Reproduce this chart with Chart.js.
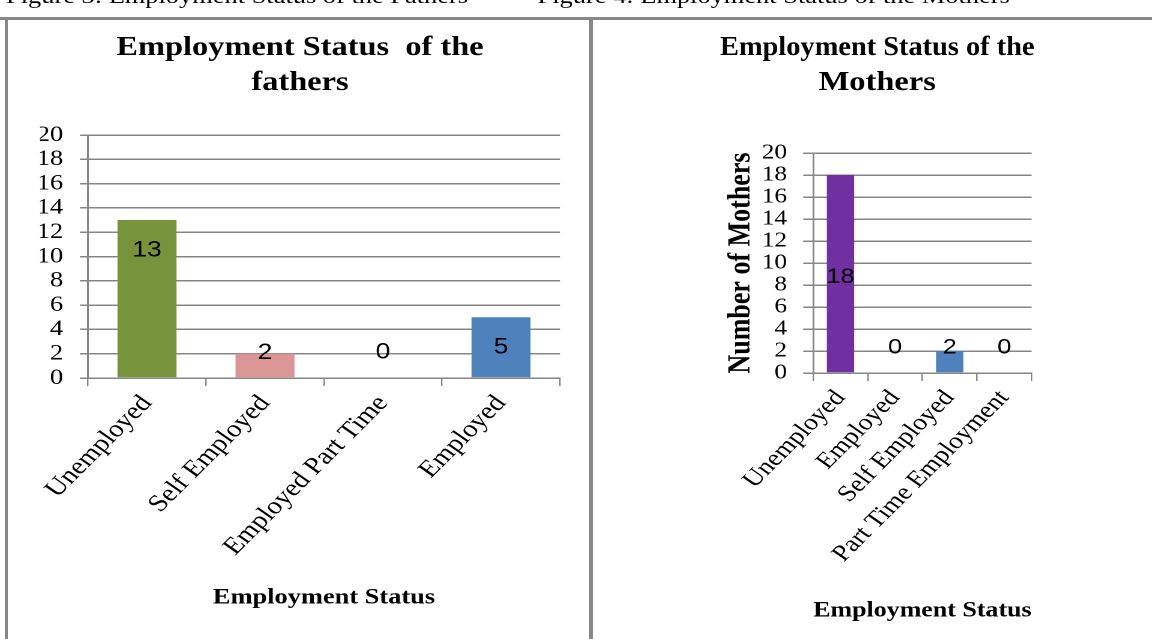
<!DOCTYPE html>
<html>
<head>
<meta charset="utf-8">
<script src="https://cdn.jsdelivr.net/npm/chart.js@4.4.1/dist/chart.umd.min.js"></script>
<style>
  html, body { margin: 0; padding: 0; background: #fff; overflow: hidden; }
  body { width: 1152px; height: 639px; position: relative; }
  /* the source image is a bit wider than it is tall, so the whole figure is stretched a little */
  #stage { position: absolute; left: 0; top: 0; width: 960px; height: 639px; transform: scaleX(1.2); transform-origin: 0 0; }
  .caption { position: absolute; top: -15px; font: 22px "Liberation Serif", serif; line-height: 22px; white-space: nowrap; color: #000; }
  .box { position: absolute; top: 0; height: 639px; }
  .rule { position: absolute; background: #888; }
</style>
</head>
<body>
<div id="stage">
  <div class="caption" style="left:5px">Figure 3: Employment Status of the Fathers</div>
  <div class="caption" style="left:448px">Figure 4: Employment Status of the Mothers</div>
  <div class="box" style="left:10px; width:480px"><canvas id="fathers"></canvas></div>
  <div class="box" style="left:600px; width:261.6px"><canvas id="mothers"></canvas></div>
</div>
<div class="rule" style="left:0; top:17px; width:1152px; height:3px"></div>
<div class="rule" style="left:5px; top:17px; width:3px; height:622px"></div>
<div class="rule" style="left:589px; top:17px; width:4px; height:622px"></div>

<script>
// ==============================
// DATA
// ==============================
const fatherStatus = ['Unemployed', 'Self Employed', 'Employed Part Time', 'Employed'];
const fatherCounts = [13, 2, 0, 5];

const motherStatus = ['Unemployed', 'Employed', 'Self Employed', 'Part Time Employment'];
const motherCounts = [18, 0, 2, 0];

const yMin = 0, yMax = 20, yStep = 2;

// where each value label sits (in axis units), as placed in the original
const fatherLabelAt = [10.5, 2.05, 2.1, 2.5];
const motherLabelAt = [8.7, 2.3, 2.3, 2.3];

const fatherColors = ['#77933C', '#D99694', '#D99694', '#4F81BD'];
const motherColors = ['#7030A0', '#7030A0', '#4F81BD', '#4F81BD'];


// ==============================
// SHARED STYLE
// ==============================
const SERIF = '"Liberation Serif", "Times New Roman", serif';
const GRID = '#868686';

Chart.defaults.font.family = SERIF;
Chart.defaults.color = '#000';

// numbers drawn on / above the bars
const valueLabels = {
  id: 'valueLabels',
  afterDatasetsDraw(chart, args, opts) {
    const ctx = chart.ctx;
    const bars = chart.getDatasetMeta(0).data;
    const values = chart.data.datasets[0].data;
    ctx.save();
    ctx.font = opts.size + 'px "Liberation Sans", Arial, sans-serif';
    ctx.fillStyle = '#000';
    ctx.textAlign = 'center';
    ctx.textBaseline = 'middle';
    bars.forEach((bar, i) => {
      ctx.fillText(String(values[i]), bar.x, chart.scales.y.getPixelForValue(opts.at[i]));
    });
    ctx.restore();
  }
};

function makeChart(id, cfg) {
  return new Chart(document.getElementById(id), {
    type: 'bar',
    data: {
      labels: cfg.labels,
      datasets: [{
        data: cfg.values,
        backgroundColor: cfg.colors,
        borderWidth: 0,
        barPercentage: 0.5,
        categoryPercentage: 1
      }]
    },
    options: {
      responsive: true,
      maintainAspectRatio: false,
      animation: false,
      devicePixelRatio: 2,
      layout: { padding: { left: cfg.padSide, right: cfg.padSide, top: 0, bottom: 0 } },
      plugins: {
        legend: { display: false },
        tooltip: { enabled: false },
        title: {
          display: true,
          text: cfg.title,
          color: '#000',
          font: { family: SERIF, size: 27, weight: 'bold', lineHeight: 1.3 },
          padding: { top: 30.5, bottom: cfg.titleGap }
        },
        valueLabels: { at: cfg.labelAt, size: cfg.labelSize }
      },
      scales: {
        x: {
          grid: { offset: true, drawOnChartArea: false, drawTicks: true, tickLength: 8, color: GRID, lineWidth: 1.2 },
          border: { color: GRID, width: 1.5 },
          ticks: {
            font: { family: SERIF, size: cfg.xFont },
            color: '#000',
            minRotation: 50,
            maxRotation: 50,
            autoSkip: false,
            padding: cfg.xPad
          },
          title: {
            display: true,
            text: 'Employment Status',
            color: '#000',
            font: { family: SERIF, size: 22, weight: 'bold', lineHeight: 1.2 },
            padding: { top: 0, bottom: cfg.xTitleBottom }
          },
          afterFit: s => { s.height = cfg.xHeight; }
        },
        y: {
          min: yMin,
          max: yMax,
          grid: { color: GRID, lineWidth: 1.5, tickLength: cfg.yTickLen },
          border: { color: GRID, width: 1.5 },
          ticks: {
            stepSize: yStep,
            autoSkip: false,
            font: { family: SERIF, size: cfg.yFont },
            color: '#000',
            padding: cfg.yPad
          },
          title: cfg.yTitle
            ? { display: true, text: cfg.yTitle, color: '#000',
                font: { family: SERIF, size: 26, weight: 'bold', lineHeight: 1.2 },
                padding: { top: 2, bottom: 0 } }
            : { display: false },
          afterFit: s => { s.width = cfg.yWidth; }
        }
      }
    },
    plugins: [valueLabels]
  });
}

makeChart('fathers', {
  labels: fatherStatus,
  values: fatherCounts,
  colors: fatherColors,
  labelAt: fatherLabelAt,
  labelSize: 22,
  title: ['Employment Status  of the', 'fathers'],
  titleGap: 34.3,
  padSide: 23.33,
  yWidth: 40,
  yTickLen: 6.7,
  yPad: 14,
  yFont: 22,
  xFont: 24,
  xPad: 4,
  xHeight: 261,
  xTitleBottom: 27.8
});

makeChart('mothers', {
  labels: motherStatus,
  values: motherCounts,
  colors: motherColors,
  labelAt: motherLabelAt,
  labelSize: 21,
  title: ['Employment Status of the', 'Mothers'],
  titleGap: 52.3,
  padSide: 0,
  yWidth: 77.5,
  yTickLen: 8.3,
  yPad: 13.4,
  yFont: 21,
  yTitle: 'Number of Mothers',
  xFont: 23,
  xPad: 4,
  xHeight: 266,
  xTitleBottom: 15
});
</script>
</body>
</html>
